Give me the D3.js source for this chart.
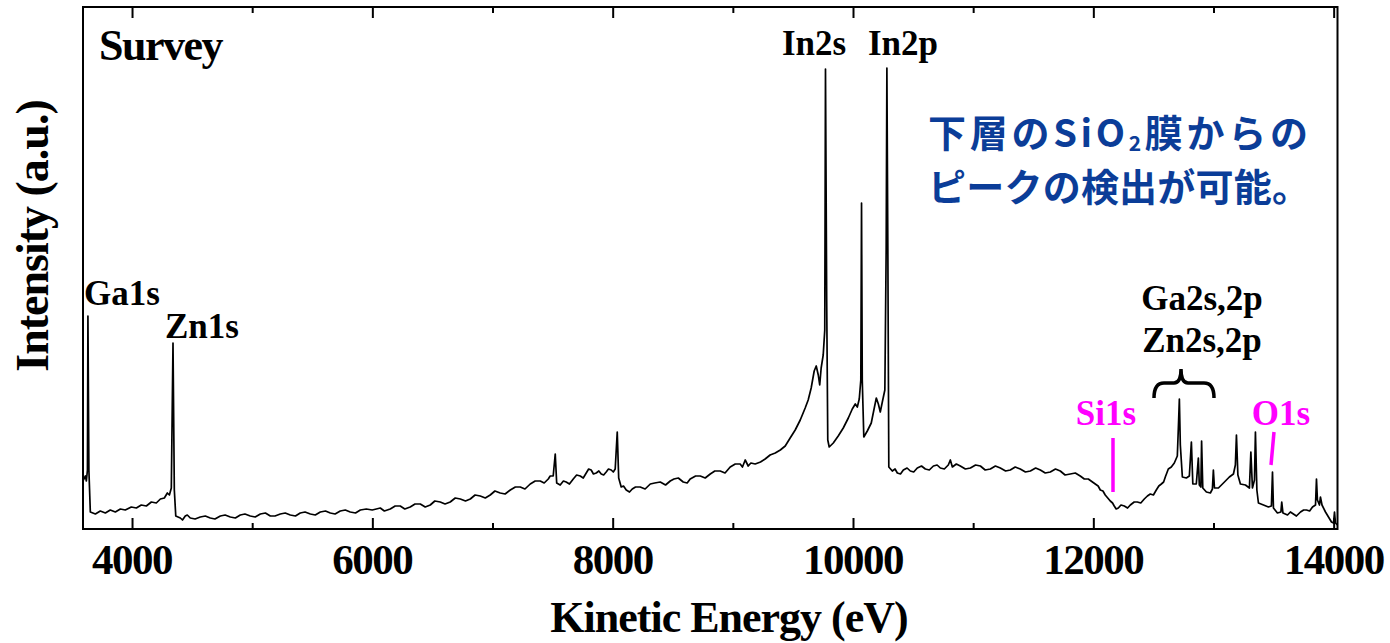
<!DOCTYPE html>
<html>
<head>
<meta charset="utf-8">
<script src="https://cdn.jsdelivr.net/npm/d3@7"></script>
<style>
  body { margin: 0; background: #fff; }
  svg { display: block; }
</style>
</head>
<body>
<svg id="chart"></svg>
<script>
// survey spectrum, [kinetic energy (eV), intensity (a.u.)]
const spectrum = [
  [3595,49],[3612,53],[3620,48],[3629,59],[3633,213],[3641,59],[3653,17],[3695,15],[3736,18],[3778,16],
  [3819,19],[3861,17],[3903,20],[3944,19],[3994,22],[4036,21],[4077,24],[4119,23],[4161,27],[4202,26],
  [4236,30],[4269,31],[4294,36],[4311,34],[4327,41],[4341,186],[4352,39],[4364,13],[4402,11],[4443,13],
  [4485,11],[4568,12],[4651,11],[4735,13],[4818,12],[4901,14],[4984,13],[5068,15],[5151,13],[5234,15],
  [5317,14],[5400,16],[5484,15],[5567,17],[5650,16],[5733,18],[5816,17],[5900,19],[5999,19],[6066,21],
  [6149,20],[6232,23],[6315,22],[6399,25],[6482,24],[6565,27],[6648,27],[6732,30],[6815,30],[6898,33],
  [6981,34],[7064,36],[7148,39],[7231,42],[7314,45],[7397,48],[7464,50],[7505,53],[7522,75],[7534,46],
  [7563,44],[7613,47],[7672,50],[7730,53],[7780,56],[7821,59],[7863,56],[7905,55],[7946,57],[7988,59],
  [8021,60],[8038,97],[8050,51],[8071,42],[8113,39],[8163,40],[8229,42],[8313,45],[8396,47],[8479,48],
  [8546,51],[8587,47],[8645,50],[8729,53],[8812,55],[8895,58],[8978,62],[9061,65],[9103,69],[9128,63],
  [9186,65],[9269,70],[9353,76],[9436,83],[9477,91],[9519,99],[9561,109],[9602,121],[9627,129],[9652,141],
  [9677,158],[9694,163],[9711,154],[9723,144],[9735,161],[9752,174],[9765,199],[9771,460],[9781,229],[9790,89],
  [9802,82],[9836,86],[9877,93],[9919,101],[9961,111],[9994,120],[10019,125],[10036,122],[10052,130],[10065,149],
  [10071,326],[10077,149],[10090,92],[10119,98],[10152,106],[10177,121],[10194,131],[10211,125],[10227,117],[10244,127],
  [10265,139],[10276,279],[10282,461],[10290,279],[10298,62],[10327,58],[10369,56],[10419,59],[10477,58],[10535,61],
  [10602,60],[10669,63],[10727,61],[10793,64],[10810,69],[10827,62],[10893,63],[10977,61],[11060,63],[11143,60],
  [11226,61],[11309,59],[11392,60],[11476,58],[11559,59],[11642,57],[11725,58],[11808,55],[11891,53],[11958,50],
  [12016,45],[12058,39],[12099,34],[12141,28],[12174,23],[12208,21],[12258,23],[12308,24],[12366,27],[12424,30],
  [12474,35],[12524,39],[12566,45],[12599,52],[12624,60],[12649,62],[12674,66],[12699,73],[12710,109],[12716,130],
  [12724,84],[12741,52],[12774,51],[12799,53],[12816,87],[12828,45],[12857,45],[12874,71],[12882,44],[12895,42],
  [12901,88],[12911,41],[12941,37],[12974,36],[12991,40],[12999,59],[13008,41],[13041,41],[13091,47],[13132,52],
  [13166,55],[13182,64],[13191,94],[13203,54],[13224,45],[13266,44],[13299,41],[13311,77],[13324,41],[13341,49],
  [13349,97],[13361,39],[13374,26],[13416,24],[13457,22],[13482,23],[13491,57],[13499,21],[13532,16],[13561,17],
  [13568,27],[13578,16],[13616,14],[13665,15],[13724,17],[13774,19],[13824,22],[13849,24],[13857,50],[13865,29],
  [13882,24],[13890,32],[13903,24],[13932,17],[13957,12],[13982,7],[13999,6],[14007,17],[14015,6],[14032,4],
  // extra readings along the noisy background
  [4420,9],[4460,14],[4525,10],[4610,13],[4690,10],[4775,14],[4860,11],[4940,15],[5025,12],[5110,16],
  [5190,13],[5275,16],[5360,13],[5440,17],[5525,14],[5610,18],[5690,15],[5775,19],[5860,16],[5950,20],
  [6100,18],[6190,23],[6270,20],[6355,25],[6440,22],[6520,28],[6605,25],[6690,31],[6775,28],[6855,34],
  [6940,31],[7020,38],[7105,35],[7190,42],[7270,40],[7355,48],[7430,46],[7480,53],
  [7590,48],[7640,45],[7700,54],[7755,51],[7800,60],[7840,55],[7885,58],[7925,54],[7965,60],[8005,57],
  [8090,43],[8140,37],[8190,42],[8270,40],[8350,46],[8440,44],[8510,50],[8620,46],[8690,53],[8770,51],
  [8850,58],[8935,56],[9020,65],[9080,62],[9150,66],[9230,67],[9310,74],[9395,79],
  [10350,60],[10395,55],[10450,61],[10505,57],[10570,63],[10635,59],[10700,64],[10760,60],[10860,65],[10935,60],
  [11020,64],[11100,59],[11185,63],[11270,58],[11350,62],[11435,57],[11520,61],[11600,56],[11685,60],[11765,54],
  [11850,56],[11925,50],[12040,43],[12080,38],[12120,31],[12160,26],[12190,20],[12230,24],[12285,21],[12340,27],
  [12395,26],[12450,33],[12500,34],[12545,43],[12585,47],[13640,17],[13690,13],[13750,19],[13800,18]
]

const xDomain = [3592, 14032]
const yDomain = [0, 522]
const majorTicks = [4000, 6000, 8000, 10000, 12000, 14000]
const minorTicks = [5000, 7000, 9000, 11000, 13000]

const xTitle = 'Kinetic Energy (eV)'
const yTitle = 'Intensity (a.u.)'
const panelTitle = 'Survey'
const peakNames = ['Ga1s', 'Zn1s', 'In2s', 'In2p']
const groupNames = ['Ga2s,2p', 'Zn2s,2p']
const substrateNames = ['Si1s', 'O1s']
const noteLines = ['下層のSiO', '膜からの', 'ピークの検出が可能。']

const W = 1390
const H = 643
const margin = { top: 7, right: 52.5, bottom: 114, left: 83 }
const width = W - margin.left - margin.right
const height = H - margin.top - margin.bottom
const serif = '"Liberation Serif", "Times New Roman", Times, serif'
const magenta = '#ff00ff'
const navy = '#0b3d98'

const svg = d3.select('#chart').attr('width', W).attr('height', H)

const g = svg
  .append('g')
  .attr('transform', `translate(${margin.left},${margin.top})`)

const x = d3.scaleLinear().domain(xDomain).range([0, width])
const y = d3.scaleLinear().domain(yDomain).range([height, 0])

// spectrum line (readings sorted by energy)
const points = d3.sort(spectrum, d => d[0])
g.append('path')
  .datum(points)
  .attr('fill', 'none')
  .attr('stroke', '#000')
  .attr('stroke-width', 1.7)
  .attr('stroke-linejoin', 'round')
  .attr('d', d3.line().x(d => x(d[0])).y(d => y(d[1])))

// ticks inside, bottom and top
const tickGroup = (sel, ticks, size, flip) =>
  sel.append('g')
    .attr('transform', flip ? null : `translate(0,${height})`)
    .call(
      (flip ? d3.axisTop(x) : d3.axisBottom(x))
        .tickValues(ticks)
        .tickSize(-size)
        .tickFormat('')
    )
    .call(a => a.select('.domain').remove())
    .selectAll('line')
    .attr('stroke', '#000')
    .attr('stroke-width', 2)

tickGroup(g, majorTicks, 11, false)
tickGroup(g, minorTicks, 6, false)
tickGroup(g, majorTicks, 11, true)
tickGroup(g, minorTicks, 6, true)

// tick labels
g.append('g')
  .selectAll('text')
  .data(majorTicks)
  .enter()
  .append('text')
  .attr('x', d => x(d))
  .attr('y', height + 45)
  .attr('text-anchor', 'middle')
  .style('font-family', serif)
  .style('font-weight', 'bold')
  .style('font-size', '43px')
  .style('letter-spacing', '-1.5px')
  .text(d => d)

// frame
g.append('rect')
  .attr('width', width)
  .attr('height', height)
  .attr('fill', 'none')
  .attr('stroke', '#000')
  .attr('stroke-width', 2)

// axis titles
svg.append('text')
  .attr('x', 729)
  .attr('y', 632)
  .attr('text-anchor', 'middle')
  .style('font-family', serif)
  .style('font-weight', 'bold')
  .style('font-size', '44px')
  .style('letter-spacing', '-1px')
  .text(xTitle)

svg.append('text')
  .attr('transform', 'translate(48,236) rotate(-90)')
  .attr('text-anchor', 'middle')
  .style('font-family', serif)
  .style('font-weight', 'bold')
  .style('font-size', '46px')
  .style('letter-spacing', '-1px')
  .text(yTitle)

const label = (txt, px, py, size, color, anchor) =>
  svg.append('text')
    .attr('x', px)
    .attr('y', py)
    .attr('text-anchor', anchor || 'start')
    .style('font-family', serif)
    .style('font-weight', 'bold')
    .style('font-size', size + 'px')
    .style('fill', color || '#000')
    .text(txt)

label(panelTitle, 99, 60, 44).style('letter-spacing', '-1.5px')
label(peakNames[0], 84, 305, 35)
label(peakNames[1], 165, 338, 35)
label(peakNames[2], 782, 55, 35)
label(peakNames[3], 868, 55, 35)
label(groupNames[0], 1202, 310, 35, '#000', 'middle')
label(groupNames[1], 1202, 352, 35, '#000', 'middle')
label(substrateNames[0], 1106, 425, 35, magenta, 'middle')
label(substrateNames[1], 1281, 425, 35, magenta, 'middle')

// brace over the Ga/Zn 2s,2p group
svg.append('path')
  .attr('d', 'M1154,398 Q1154,383 1164,383 L1174,383 Q1181,383 1181,369 Q1181,383 1188,383 L1204,383 Q1214,383 1214,398')
  .attr('fill', 'none')
  .attr('stroke', '#000')
  .attr('stroke-width', 3.5)

// Si1s / O1s markers
svg.append('line')
  .attr('x1', 1113).attr('y1', 438).attr('x2', 1113).attr('y2', 492)
  .attr('stroke', magenta).attr('stroke-width', 3.5)
svg.append('line')
  .attr('x1', 1274).attr('y1', 432).attr('x2', 1271).attr('y2', 465)
  .attr('stroke', magenta).attr('stroke-width', 3.5)

// japanese note, both lines in one text element
const jp = '"Noto Sans CJK JP", "Noto Sans", sans-serif'
const note = svg.append('text')
  .style('font-family', jp)
  .style('font-weight', 'bold')
  .style('font-size', '38px')
  .style('fill', navy)
const line1 = note.append('tspan')
  .attr('x', 928)
  .attr('y', 147)
  .attr('textLength', 380)
  .attr('lengthAdjust', 'spacing')
line1.append('tspan').text(noteLines[0])
line1.append('tspan').attr('dy', 4).style('font-size', '21px').text('2')
line1.append('tspan').attr('dy', -4).text(noteLines[1])
note.append('tspan')
  .attr('x', 928)
  .attr('y', 201)
  .attr('textLength', 382)
  .attr('lengthAdjust', 'spacing')
  .text(noteLines[2])
</script>
</body>
</html>
